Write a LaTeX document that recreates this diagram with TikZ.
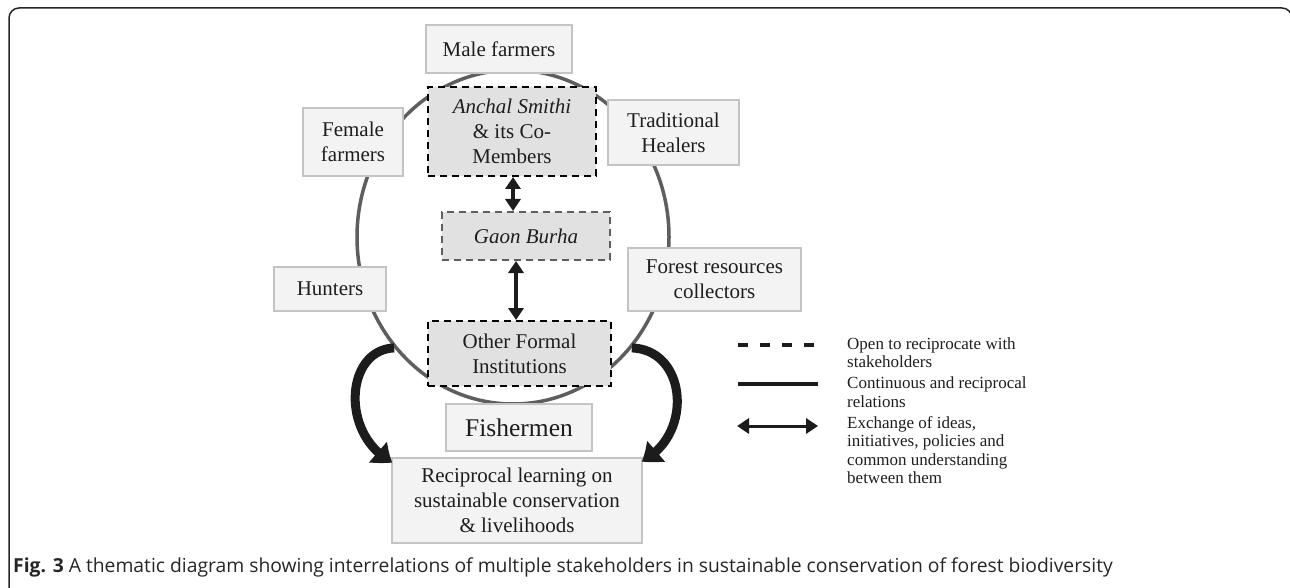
\documentclass[tikz,border=0pt]{standalone}
\usepackage{fontspec}
\setmainfont{Liberation Serif}
\newfontfamily\capfont{Open Sans}
\usetikzlibrary{shapes.geometric,arrows.meta,bending}
\definecolor{boxfill}{HTML}{F3F3F3}
\definecolor{boxline}{HTML}{C4C4C4}
\definecolor{darkfill}{HTML}{E1E1E1}
\definecolor{ringcol}{HTML}{5E5E5E}
\definecolor{txtcol}{HTML}{1E1E1E}
\definecolor{arrcol}{HTML}{1C1C1C}
\tikzset{
  stake/.style={draw=boxline, line width=1.2pt, fill=boxfill, inner sep=0pt, align=center,
     text=txtcol, font=\fontsize{21}{25}\selectfont},
  inst/.style={draw=black, dash pattern=on 7pt off 5pt, line width=2pt, fill=darkfill,
     inner sep=0pt, align=center, text=txtcol, font=\fontsize{21}{25}\selectfont},
  dblarrow/.style={draw=arrcol, line width=3.5pt, {Triangle[width=15pt,length=12pt]}-{Triangle[width=15pt,length=12pt]}},
  bigcurve/.style={draw=arrcol, line width=9pt, -{Triangle[width=26pt,length=18pt,bend]}},
  legtext/.style={anchor=base west, inner sep=0pt, text=txtcol, font=\fontsize{17}{19}\selectfont},
}
\begin{document}
\begin{tikzpicture}[x=1pt,y=-1pt]
\useasboundingbox (0,0) rectangle (1290,588);
% frame
\draw[line width=1.5pt, draw=black!85, rounded corners=10pt] (9,600) -- (9,8) -- (1292,8) -- (1292,40);
% ring
\node[ellipse, draw=ringcol, line width=3.5pt, minimum width=312pt, minimum height=334pt, inner sep=0pt] (ring) at (513,237) {};
% stakeholder boxes
\node[stake, minimum width=146pt, minimum height=48pt] (male) at (499,49) {Male farmers};
\node[stake, minimum width=100pt, minimum height=68pt] (female) at (353,142) {Female\\farmers};
\node[stake, minimum width=131pt, minimum height=65pt] (healers) at (673.5,132.5) {Traditional\\Healers};
\node[stake, minimum width=112pt, minimum height=44pt] (hunters) at (330,289) {Hunters};
\node[stake, minimum width=173pt, minimum height=63pt] (forest) at (714.5,279.5) {Forest resources\\collectors};
\node[stake, minimum width=146pt, minimum height=47pt, font=\fontsize{25.5}{30}\selectfont] (fisher) at (519,427.5) {Fishermen};
\node[stake, minimum width=250pt, minimum height=85pt] (rec) at (517,500.5) {Reciprocal learning on\\sustainable conservation\\\& livelihoods};
% institutions
\node[inst, minimum width=168pt, minimum height=89pt] (anchal) at (512,131.5) {\textit{Anchal Smithi}\\\& its Co-\\Members};
\node[inst, draw=ringcol, minimum width=168pt, minimum height=48pt] (gaon) at (526,236) {\textit{Gaon Burha}};
\node[inst, minimum width=183pt, minimum height=65pt] (other) at (519.5,353.5) {Other Formal\\Institutions};
% exchange arrows
\draw[dblarrow] ([xshift=1pt]anchal.south) -- ([xshift=1pt]anchal.south |- gaon.north);
\draw[dblarrow] ([xshift=-10pt]gaon.south) -- ([xshift=-10pt]gaon.south |- other.north);
% curved arrows
\draw[bigcurve] (ring.223) .. controls (345,350) and (340,435) .. ([xshift=1pt,yshift=-5pt]rec.north west);
\draw[bigcurve] (ring.317) .. controls (687,350) and (694,435) .. ([xshift=-1pt,yshift=-4pt]rec.north east);
% legend
\coordinate (l1a) at (738,345); \coordinate (l1b) at (818,345);
\coordinate (l2a) at (738,384); \coordinate (l2b) at (818,384);
\coordinate (l3a) at (737,426); \coordinate (l3b) at (818,426);
\draw[draw=arrcol, line width=4pt, dash pattern=on 10pt off 12pt] (l1a) -- (l1b);
\draw[draw=arrcol, line width=3.5pt] (l2a) -- (l2b);
\draw[dblarrow, line width=3pt] (l3a) -- (l3b);
\node[legtext] (t1a) at (847,349) {Open to reciprocate with};
\node[legtext] (t1b) at (847,367) {stakeholders};
\node[legtext] (t2a) at (847,388) {Continuous and reciprocal};
\node[legtext] (t2b) at (847,407) {relations};
\node[legtext] (t3a) at (847,428) {Exchange of ideas,};
\node[legtext] (t3b) at (847,446) {initiatives, policies and};
\node[legtext] (t3c) at (847,465) {common understanding};
\node[legtext] (t3d) at (847,483) {between them};
% caption
\node[anchor=base west, inner sep=0pt, text=black!85, font=\capfont\fontsize{19.3}{23}\selectfont] (cap) at (13,572)
  {\textbf{Fig. 3} A thematic diagram showing interrelations of multiple stakeholders in sustainable conservation of forest biodiversity};
\end{tikzpicture}
\end{document}
